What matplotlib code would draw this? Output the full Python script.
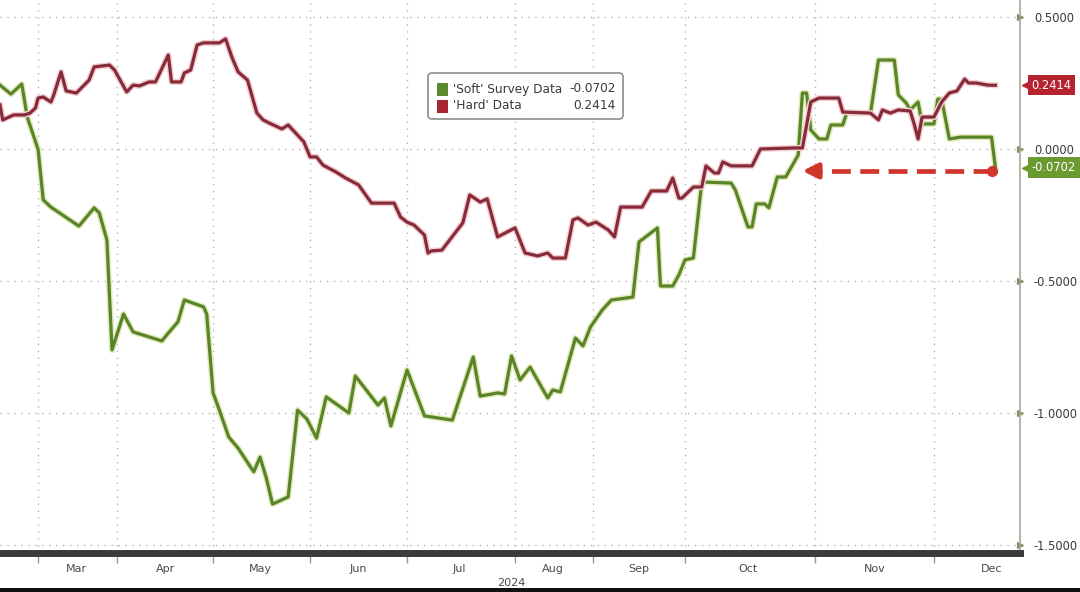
import numpy as np
import pandas as pd
import matplotlib
matplotlib.use("Agg")
import matplotlib.pyplot as plt
import matplotlib.dates as mdates
import matplotlib.patheffects as pe
from matplotlib.patches import FancyBboxPatch, Rectangle
from matplotlib.ticker import FixedLocator
from matplotlib.transforms import blended_transform_factory

# ---------------- data ----------------
series_names = ["'Soft' Survey Data", "'Hard' Data"]

soft_dates = ['2024-02-16', '2024-02-20', '2024-02-24', '2024-02-26', '2024-03-01', '2024-03-03',
              '2024-03-06', '2024-03-17', '2024-03-23', '2024-03-25', '2024-03-28', '2024-03-30',
              '2024-04-03', '2024-04-06', '2024-04-15', '2024-04-17', '2024-04-20', '2024-04-22',
              '2024-04-28', '2024-04-29', '2024-05-01', '2024-05-03', '2024-05-06', '2024-05-09',
              '2024-05-14', '2024-05-16', '2024-05-18', '2024-05-20', '2024-05-25', '2024-05-28',
              '2024-05-31', '2024-06-03', '2024-06-06', '2024-06-13', '2024-06-15', '2024-06-22',
              '2024-06-24', '2024-06-26', '2024-07-01', '2024-07-06', '2024-07-14', '2024-07-20',
              '2024-07-22', '2024-07-27', '2024-07-29', '2024-07-31', '2024-08-03', '2024-08-07',
              '2024-08-14', '2024-08-16', '2024-08-19', '2024-08-25', '2024-08-28', '2024-08-31',
              '2024-09-04', '2024-09-07', '2024-09-14', '2024-09-16', '2024-09-22', '2024-09-23',
              '2024-09-27', '2024-09-29', '2024-10-01', '2024-10-03', '2024-10-05', '2024-10-12',
              '2024-10-13', '2024-10-16', '2024-10-17', '2024-10-18', '2024-10-20', '2024-10-21',
              '2024-10-23', '2024-10-25', '2024-10-28', '2024-10-29', '2024-10-30', '2024-10-31',
              '2024-11-02', '2024-11-04', '2024-11-05', '2024-11-08', '2024-11-09', '2024-11-15',
              '2024-11-17', '2024-11-21', '2024-11-22', '2024-11-24', '2024-11-25', '2024-11-27',
              '2024-11-28', '2024-12-01', '2024-12-02', '2024-12-03', '2024-12-05', '2024-12-08',
              '2024-12-16', '2024-12-17']
soft_values = [0.242, 0.208, 0.246, 0.121, -0.002, -0.193,
               -0.220, -0.292, -0.223, -0.242, -0.345, -0.761,
               -0.625, -0.693, -0.727, -0.697, -0.655, -0.572,
               -0.598, -0.625, -0.924, -0.989, -1.091, -1.133,
               -1.223, -1.167, -1.246, -1.345, -1.318, -0.989,
               -1.023, -1.095, -0.939, -1.000, -0.860, -0.970,
               -0.943, -1.049, -0.837, -1.011, -1.027, -0.788,
               -0.936, -0.924, -0.928, -0.784, -0.875, -0.826,
               -0.943, -0.913, -0.920, -0.716, -0.746, -0.674,
               -0.610, -0.572, -0.561, -0.352, -0.299, -0.519,
               -0.519, -0.477, -0.420, -0.413, -0.125, -0.129,
               -0.155, -0.295, -0.295, -0.208, -0.208, -0.223,
               -0.106, -0.106, -0.023, 0.212, 0.212, 0.072,
               0.038, 0.038, 0.091, 0.091, 0.136, 0.136,
               0.337, 0.337, 0.205, 0.174, 0.148, 0.178,
               0.095, 0.095, 0.189, 0.189, 0.038, 0.045,
               0.045, -0.0702]

hard_dates = ['2024-02-16', '2024-02-17', '2024-02-21', '2024-02-25', '2024-02-27', '2024-02-29',
              '2024-03-01', '2024-03-03', '2024-03-06', '2024-03-07', '2024-03-10', '2024-03-12',
              '2024-03-16', '2024-03-21', '2024-03-23', '2024-03-29', '2024-03-31',
              '2024-04-04', '2024-04-06', '2024-04-08', '2024-04-11', '2024-04-13', '2024-04-17',
              '2024-04-18', '2024-04-21', '2024-04-22', '2024-04-24', '2024-04-26', '2024-04-28',
              '2024-05-03', '2024-05-05', '2024-05-07', '2024-05-09', '2024-05-12', '2024-05-15',
              '2024-05-17', '2024-05-19', '2024-05-23', '2024-05-25', '2024-05-30',
              '2024-06-01', '2024-06-03', '2024-06-05', '2024-06-09', '2024-06-12', '2024-06-16',
              '2024-06-20', '2024-06-27', '2024-06-29',
              '2024-07-01', '2024-07-03', '2024-07-06', '2024-07-07', '2024-07-08', '2024-07-11',
              '2024-07-17', '2024-07-19', '2024-07-22', '2024-07-24', '2024-07-27',
              '2024-08-01', '2024-08-05', '2024-08-10', '2024-08-14', '2024-08-16', '2024-08-21',
              '2024-08-24', '2024-08-26', '2024-08-30',
              '2024-09-02', '2024-09-06', '2024-09-08', '2024-09-10', '2024-09-17', '2024-09-20',
              '2024-09-25', '2024-09-27', '2024-09-29', '2024-09-30',
              '2024-10-03', '2024-10-05', '2024-10-06', '2024-10-08', '2024-10-09', '2024-10-10',
              '2024-10-12', '2024-10-17', '2024-10-19', '2024-10-27', '2024-10-29', '2024-10-31',
              '2024-11-02', '2024-11-07', '2024-11-08', '2024-11-15', '2024-11-17', '2024-11-18',
              '2024-11-20', '2024-11-22', '2024-11-25', '2024-11-26', '2024-11-27', '2024-11-28',
              '2024-12-01', '2024-12-03', '2024-12-05', '2024-12-07', '2024-12-09', '2024-12-10',
              '2024-12-12', '2024-12-15', '2024-12-17']
hard_values = [0.167, 0.110, 0.129, 0.129, 0.136, 0.155,
               0.193, 0.197, 0.178, 0.201, 0.292, 0.220,
               0.212, 0.261, 0.311, 0.318, 0.299,
               0.216, 0.242, 0.239, 0.254, 0.254, 0.356,
               0.254, 0.254, 0.288, 0.299, 0.394, 0.402,
               0.402, 0.417, 0.348, 0.292, 0.261, 0.136,
               0.110, 0.098, 0.076, 0.091, 0.027,
               -0.030, -0.030, -0.061, -0.087, -0.110, -0.136,
               -0.205, -0.205, -0.258,
               -0.277, -0.288, -0.326, -0.394, -0.386, -0.383,
               -0.280, -0.174, -0.201, -0.189, -0.333,
               -0.299, -0.394, -0.405, -0.394, -0.413, -0.413,
               -0.269, -0.261, -0.288,
               -0.277, -0.307, -0.333, -0.220, -0.220, -0.159,
               -0.159, -0.110, -0.186, -0.186,
               -0.144, -0.144, -0.064, -0.091, -0.091, -0.049,
               -0.064, -0.064, 0.000, 0.004, 0.004, 0.178,
               0.193, 0.193, 0.140, 0.136, 0.110, 0.148,
               0.136, 0.148, 0.144, 0.095, 0.038, 0.121,
               0.121, 0.178, 0.212, 0.220, 0.265, 0.250,
               0.250, 0.242, 0.2414]

y_ticks = [-1.5, -1.0, -0.5, 0.0, 0.5]
year_label = "2024"
arrow_from = '2024-12-16'
arrow_to = '2024-10-29'
arrow_level = -0.083

# relative on-screen width of each month (Feb .. Dec) in the source chart
month_edges = pd.date_range('2024-02-01', '2025-01-01', freq='MS')
month_widths = [79, 79, 96, 97, 97, 108, 78, 92, 130, 119, 119]

# ---------------- colours ----------------
C_SOFT = '#5a842a'
C_SOFT_GLOW = '#e2ecbd'
C_HARD = '#872b38'
C_HARD_GLOW = '#f3d0d5'
C_SOFT_TAG = '#6b9a30'
C_HARD_TAG = '#b5232f'
C_ARROW = '#d0352b'
C_GRID = '#b3b3b3'
C_TEXT = '#3a3a3a'

plt.rcParams['font.family'] = ['DejaVu Sans']

# ---------------- x scale (piecewise by month) ----------------
edge_num = mdates.date2num(month_edges)
edge_pos = np.concatenate([[0.0], np.cumsum(month_widths)]).astype(float)
kn = np.concatenate([[edge_num[0] - 1000], edge_num, [edge_num[-1] + 1000]])
kp = np.concatenate([[edge_pos[0] - 1000 * month_widths[0] / 29.0], edge_pos,
                     [edge_pos[-1] + 1000 * month_widths[-1] / 31.0]])


def fwd(x):
    return np.interp(x, kn, kp)


def inv(p):
    return np.interp(p, kp, kn)


fig = plt.figure(figsize=(10.8, 5.92), dpi=100)
fig.patch.set_facecolor('white')
ax = fig.add_axes([0.0, 39 / 592, 1020 / 1080, 553 / 592])
ax.set_facecolor('white')

sd = pd.to_datetime(soft_dates)
hd = pd.to_datetime(hard_dates)

ax.plot(sd, soft_values, color=C_SOFT, lw=2.3, solid_joinstyle='round', zorder=3,
        path_effects=[pe.Stroke(linewidth=4.4, foreground=C_SOFT_GLOW), pe.Normal()])
ax.plot(hd, hard_values, color=C_HARD, lw=2.3, solid_joinstyle='round', zorder=4,
        path_effects=[pe.Stroke(linewidth=4.4, foreground=C_HARD_GLOW), pe.Normal()])

ax.set_xscale('function', functions=(fwd, inv))
ax.set_xlim(pd.Timestamp('2024-02-16'), pd.Timestamp('2024-12-23 10:00'))
ax.set_ylim((149 - 553) / 264, 149 / 264)

# arrow annotation
a_from = pd.Timestamp(arrow_from)
a_to = pd.Timestamp(arrow_to)
a_mid = a_to + pd.Timedelta(days=4)
ax.plot([a_from, a_mid], [arrow_level, arrow_level], color=C_ARROW, lw=3.4,
        linestyle=(0, (4.0, 2.0)), zorder=5, solid_capstyle='butt')
ax.plot([a_from], [arrow_level], marker='o', ms=7, color=C_ARROW, zorder=6)
ax.annotate('', xy=(a_to, arrow_level), xytext=(a_mid, arrow_level),
            arrowprops=dict(arrowstyle='-|>,head_length=0.9,head_width=0.45',
                            color=C_ARROW, lw=3.4, shrinkA=0, shrinkB=0), zorder=6)

# grid
ax.yaxis.set_major_locator(FixedLocator(y_ticks))
ax.yaxis.set_major_formatter(plt.FuncFormatter(lambda v, p: f"{v:.4f}"))
ax.grid(axis='y', which='major', color=C_GRID, linestyle=(0, (1, 4)), lw=1.0, zorder=1)
ax.xaxis.set_major_locator(mdates.MonthLocator(bymonth=range(3, 13), bymonthday=16))
ax.xaxis.set_major_formatter(mdates.DateFormatter('%b'))
ax.xaxis.set_minor_locator(mdates.MonthLocator(bymonth=range(3, 13)))
ax.grid(axis='x', which='minor', color=C_GRID, linestyle=(0, (1, 4)), lw=1.0, zorder=1)
ax.grid(axis='x', which='major', visible=False)

ax.tick_params(axis='x', which='major', length=0, pad=8, labelsize=8, labelcolor='#4a4a4a')
ax.tick_params(axis='x', which='minor', length=7, width=1, color='#9a9a9a')
ax.tick_params(axis='y', which='major', left=False, labelleft=False, right=True, labelright=True,
               length=4, pad=6, labelsize=8.3, labelcolor=C_TEXT, color='#7f8f60')
for t in ax.yaxis.get_major_ticks():
    t.tick2line.set_marker('>')
    t.tick2line.set_markersize(5)
    t.tick2line.set_color('#7f8f60')

for s in ['top', 'left']:
    ax.spines[s].set_visible(False)
ax.spines['right'].set_color('#a3aa95')
ax.spines['right'].set_linewidth(1.2)
ax.spines['bottom'].set_color('#3b3b3b')
ax.spines['bottom'].set_linewidth(5)

fig.text(511 / 1080, 1 - 583 / 592, year_label, ha='center', va='center', fontsize=8, color='#4a4a4a')

# legend box
lx0, lx1, ly0, ly1 = 428 / 1020, 623 / 1020, 1 - 119 / 553, 1 - 73 / 553
ax.add_patch(FancyBboxPatch((lx0, ly0), lx1 - lx0, ly1 - ly0, boxstyle='round,pad=0,rounding_size=0.004',
                            transform=ax.transAxes, facecolor='white', edgecolor='#8c8c8c', lw=1.2,
                            zorder=7, mutation_aspect=1.8))
leg_rows = [(series_names[0], soft_values[-1], '#5b8a2e', 89),
            (series_names[1], hard_values[-1], '#a8262f', 106)]
for name, val, col, yc in leg_rows:
    yf = 1 - yc / 553
    ax.add_patch(Rectangle((437 / 1020, yf - 6.5 / 553), 11 / 1020, 13 / 553, transform=ax.transAxes,
                           facecolor=col, edgecolor='none', zorder=8))
    ax.text(453 / 1020, yf, name, transform=ax.transAxes, ha='left', va='center',
            fontsize=8.7, color=C_TEXT, zorder=8)
    ax.text(616 / 1020, yf, f"{val:.4f}", transform=ax.transAxes, ha='right', va='center',
            fontsize=8.7, color=C_TEXT, zorder=8)

# right-hand value tags
bt = blended_transform_factory(ax.transAxes, ax.transData)
for val, col in [(hard_values[-1], C_HARD_TAG), (soft_values[-1], C_SOFT_TAG)]:
    ax.plot([1.0075], [val], marker='<', ms=9, color=col, transform=bt, clip_on=False, zorder=9)
    ax.text(1.0115, val, f"{val:.4f}", transform=bt, ha='left', va='center', fontsize=8.3,
            color='white', clip_on=False, zorder=10,
            bbox=dict(boxstyle='square,pad=0.32', facecolor=col, edgecolor='none'))

# thin dark strip at the very bottom of the screenshot
fig.patches.append(Rectangle((0, 0), 1, 4 / 592, transform=fig.transFigure, facecolor='#111111',
                             edgecolor='none', zorder=0))

fig.savefig('out.png', dpi=100)
